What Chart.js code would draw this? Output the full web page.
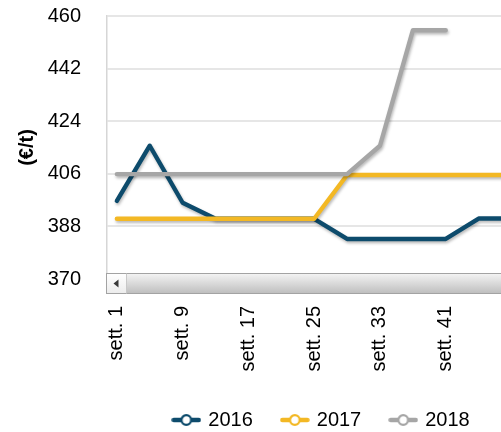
<!DOCTYPE html>
<html>
<head>
<meta charset="utf-8">
<script src="https://cdn.jsdelivr.net/npm/chart.js@4"></script>
<style>
  html, body { margin: 0; padding: 0; background: #fff; overflow: hidden; }
  #wrap { width: 547px; height: 432px; }
</style>
</head>
<body>
<div id="wrap"><canvas id="chart" width="547" height="432"></canvas></div>
<script>
// weeks at which the series are sampled
const weeks = [1, 5, 9, 13, 17, 21, 25, 29, 33, 37, 41, 45, 49];
const xTickWeeks = [1, 9, 17, 25, 33, 41, 49];
const yTicks = [370, 388, 406, 424, 442, 460];

const years = ["2016", "2017", "2018"];
const values2016 = [396.7, 415.6, 396.1, 390.6, 390.6, 390.6, 390.6, 383.7, 383.7, 383.7, 383.7, 390.7, 390.7];
const values2017 = [390.6, 390.6, 390.6, 390.6, 390.6, 390.6, 390.6, 405.6, 405.6, 405.6, 405.6, 405.6, 405.6];
const values2018 = [405.9, 405.9, 405.9, 405.9, 405.9, 405.9, 405.9, 405.9, 415.6, 455.1, 455.1, null, null];

const colors = ["#0d4b6c", "#f3b824", "#a6a6a6"];
const FONT = "'Liberation Sans', Arial, sans-serif";

// legend icon: short line with an open circle
function legendIcon(color) {
  const c = document.createElement("canvas");
  c.width = 30;
  c.height = 14;
  const g = c.getContext("2d");
  g.strokeStyle = color;
  g.lineCap = "round";
  g.lineWidth = 4.5;
  g.beginPath();
  g.moveTo(2.5, 7);
  g.lineTo(27.5, 7);
  g.stroke();
  g.fillStyle = "#fff";
  g.lineWidth = 2.2;
  g.beginPath();
  g.arc(15, 7, 4.8, 0, Math.PI * 2);
  g.fill();
  g.stroke();
  return c;
}

const toPoints = (vals) => weeks.map((w, i) => ({ x: w, y: vals[i] }));

// soft shadow under the lines
const lineShadow = {
  id: "lineShadow",
  beforeDatasetsDraw(chart) {
    const ctx = chart.ctx;
    ctx.save();
    ctx.shadowColor = "rgba(0,0,0,0.28)";
    ctx.shadowBlur = 3;
    ctx.shadowOffsetX = 1;
    ctx.shadowOffsetY = 2;
  },
  afterDatasetsDraw(chart) {
    chart.ctx.restore();
  },
};

// the horizontal scroll bar under the plot
const scrollBar = {
  id: "scrollBar",
  afterDraw(chart) {
    const { ctx, chartArea } = chart;
    const left = Math.round(chartArea.left) - 0.5;
    const top = Math.round(chartArea.bottom) - 5.5;
    const h = 20;
    const right = chart.width;
    ctx.save();
    let grad = ctx.createLinearGradient(0, top, 0, top + h);
    grad.addColorStop(0, "#f4f4f4");
    grad.addColorStop(1, "#bebebe");
    ctx.fillStyle = grad;
    ctx.fillRect(left + 20, top, right - left - 20, h);
    grad = ctx.createLinearGradient(0, top, 0, top + h);
    grad.addColorStop(0, "#ffffff");
    grad.addColorStop(1, "#ececec");
    ctx.fillStyle = grad;
    ctx.fillRect(left, top, 20, h);
    ctx.strokeStyle = "#a3a3a3";
    ctx.lineWidth = 1;
    ctx.strokeRect(left, top, right - left, h);
    ctx.strokeStyle = "#c8c8c8";
    ctx.beginPath();
    ctx.moveTo(left + 20, top);
    ctx.lineTo(left + 20, top + h);
    ctx.stroke();
    ctx.fillStyle = "#3a3a3a";
    ctx.beginPath();
    ctx.moveTo(left + 7, top + h / 2);
    ctx.lineTo(left + 12, top + h / 2 - 4);
    ctx.lineTo(left + 12, top + h / 2 + 4);
    ctx.closePath();
    ctx.fill();
    ctx.restore();
  },
};

const seriesValues = [values2016, values2017, values2018];
const drawOrder = [2, 1, 0];

new Chart(document.getElementById("chart"), {
  type: "line",
  data: {
    datasets: years.map((label, i) => ({
      label,
      data: toPoints(seriesValues[i]),
      borderColor: colors[i],
      backgroundColor: colors[i],
      borderWidth: 4.4,
      borderCapStyle: "round",
      borderJoinStyle: "round",
      tension: 0,
      pointRadius: 0,
      pointHoverRadius: 0,
      pointStyle: legendIcon(colors[i]),
      order: drawOrder[i],
      spanGaps: false,
    })),
  },
  options: {
    responsive: false,
    animation: false,
    events: [],
    layout: { padding: { top: 16, right: 10, left: 0, bottom: -8 } },
    plugins: {
      legend: {
        position: "bottom",
        fullSize: false,
        labels: {
          usePointStyle: true,
          pointStyleWidth: 24,
          padding: 30,
          color: "#000",
          font: { family: FONT, size: 20 },
          sort: (a, b) => a.datasetIndex - b.datasetIndex,
        },
      },
      tooltip: { enabled: false },
    },
    scales: {
      x: {
        type: "linear",
        min: -0.2,
        max: 52.1,
        grid: { display: false, drawTicks: false },
        border: { display: false },
        afterBuildTicks: (scale) => {
          scale.ticks = xTickWeeks.map((v) => ({ value: v }));
        },
        afterFit: (scale) => {
          scale.height = 101;
          scale.paddingLeft = 0;
          scale.paddingRight = 0;
        },
        ticks: {
          autoSkip: false,
          minRotation: 90,
          maxRotation: 90,
          padding: 27,
          color: "#000",
          font: { family: FONT, size: 20 },
          callback: (v) => "sett. " + v,
        },
      },
      y: {
        min: 370,
        max: 460,
        afterBuildTicks: (scale) => {
          scale.ticks = yTicks.map((v) => ({ value: v }));
        },
        afterFit: (scale) => {
          scale.width = 107;
          scale.paddingTop = 0;
          scale.paddingBottom = 0;
        },
        grid: { color: "#e6e6e6", lineWidth: 2, drawTicks: false },
        border: { display: true, color: "#d6d6d6", width: 1.5 },
        title: {
          display: true,
          text: "(€/t)",
          color: "#000",
          font: { family: FONT, size: 20, weight: "bold" },
          padding: { top: 15, bottom: 0 },
        },
        ticks: {
          padding: 26,
          color: "#000",
          font: { family: FONT, size: 20 },
        },
      },
    },
  },
  plugins: [lineShadow, scrollBar],
});
</script>
</body>
</html>
